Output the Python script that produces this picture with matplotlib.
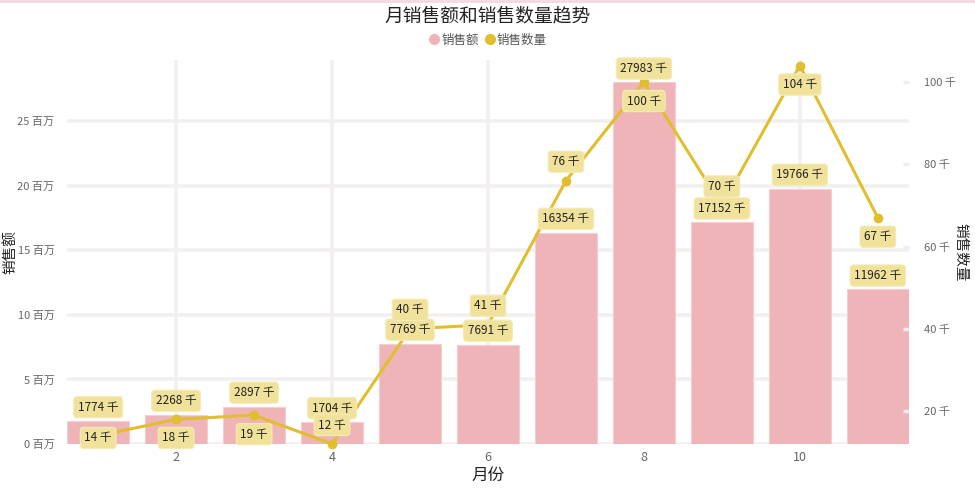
import matplotlib
matplotlib.use("Agg")
import matplotlib.pyplot as plt
import matplotlib.transforms as mtransforms
from matplotlib.lines import Line2D

plt.rcParams['font.family'] = ['Noto Sans CJK SC', 'DejaVu Sans']

# data (in thousands)
months = [1, 2, 3, 4, 5, 6, 7, 8, 9, 10, 11]
sales_k = [1774, 2268, 2897, 1704, 7769, 7691, 16354, 27983, 17152, 19766, 11962]
qty_k = [14, 18, 19, 12, 40, 41, 76, 100, 70, 104, 67]
left_ticks = [0, 5, 10, 15, 20, 25]
right_ticks = [20, 40, 60, 80, 100]
x_ticks = [2, 4, 6, 8, 10]
qty_label_side = [-1, -1, -1, 1, 1, 1, 1, -1, 1, -1, -1]   # +1 above, -1 below

bar_color = '#efb4b8'
line_color = '#e1be2d'
label_bg = '#f1e29b'
grid_color = '#f2f0ef'
tick_color = '#666666'

fig = plt.figure(figsize=(9.75, 4.88), dpi=100)
ax = fig.add_axes([67 / 975, 44 / 488, (909 - 67) / 975, (444 - 60) / 488])
ax2 = ax.twinx()

# bars (millions on left axis)
sales_m = [v / 1000 for v in sales_k]
ax.bar(months, sales_m, width=0.8, color=bar_color, edgecolor='#f6cdd0',
       linewidth=0.8, zorder=2)
ax.set_xlim(0.6, 11.4)
ax.set_ylim(0, 29.72)
ax.set_yticks(left_ticks)
ax.set_yticklabels([f'{t} 百万' for t in left_ticks])
ax.set_xticks(x_ticks)
ax.grid(True, color=grid_color, linewidth=2.6, zorder=0)
ax.set_axisbelow(True)
for s in ax.spines.values():
    s.set_visible(False)
ax.tick_params(axis='both', length=0, labelsize=8, labelcolor=tick_color)
ax.tick_params(axis='y', pad=9)
ax.tick_params(axis='x', pad=5, labelsize=9)
ax.set_xlabel('月份', fontsize=12, color='#222222', labelpad=2)
ax.set_ylabel('销售额', fontsize=10.5, color='#222222')
ax.yaxis.set_label_coords(-50 / 842, 0.5)

# line on right axis
ax2.plot(months, qty_k, color=line_color, linewidth=2.2, marker='o',
         markersize=6, zorder=3, clip_on=False)
ymin2, ymax2 = 12, 105.35
ax2.set_ylim(ymin2, ymax2)
ax2.set_yticks(right_ticks)
ax2.set_yticklabels([f'{t} 千' for t in right_ticks])
for s in ax2.spines.values():
    s.set_visible(False)
ax2.tick_params(axis='y', direction='in', length=4, width=2.5, color='#eeeeee',
                labelsize=8, labelcolor=tick_color, pad=11)
ax2.set_ylabel('销售数量', fontsize=10.5, color='#222222', rotation=-90)
ax2.yaxis.set_label_coords(1 + 58 / 842, 0.5)

box = dict(boxstyle='round,pad=0.35,rounding_size=0.3', facecolor=label_bg,
           edgecolor='#f5eab8', linewidth=0.8)
axh = (444 - 60)
trans2 = mtransforms.blended_transform_factory(ax2.transData, ax2.transAxes)

# bar labels (drawn on ax2 so they sit above the line)
for m, v, vm in zip(months, sales_k, sales_m):
    ax2.annotate(f'{v} 千', xy=(m, vm), xycoords=ax.transData,
                 xytext=(0, 10), textcoords='offset points',
                 ha='center', va='center', fontsize=8.5, color='#222222',
                 bbox=box, zorder=5, annotation_clip=False)

# line labels
for m, v, side in zip(months, qty_k, qty_label_side):
    frac = (v - ymin2) / (ymax2 - ymin2) + side * 19 / axh
    frac = max(frac, 6 / axh)
    ax2.text(m, frac, f'{v} 千', transform=trans2, ha='center', va='center',
             fontsize=8.5, color='#222222', bbox=box, zorder=6)

# title and legend
fig.text(0.5, 1 - 16 / 488, '月销售额和销售数量趋势', ha='center', va='center',
         fontsize=13.5, color='#222222')
handles = [Line2D([], [], linestyle='none', marker='o', markersize=7,
                  color=bar_color, label='销售额'),
           Line2D([], [], linestyle='none', marker='o', markersize=7,
                  color=line_color, label='销售数量')]
fig.legend(handles=handles, loc='center', bbox_to_anchor=(0.5, 1 - 40 / 488),
           ncol=2, frameon=False, fontsize=9, handletextpad=0.05,
           columnspacing=0.4, handlelength=1.0, labelcolor='#555555')

# thin pink band along the top edge
fig.add_artist(Line2D([0, 1], [0.998, 0.998], transform=fig.transFigure,
                      color='#f7d6df', linewidth=2))

fig.savefig('out.png', dpi=100)
